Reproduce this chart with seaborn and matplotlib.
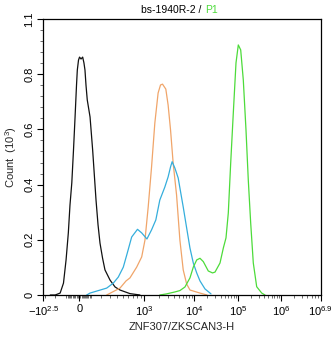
import numpy as np
import pandas as pd
import matplotlib
matplotlib.use("Agg")
import matplotlib.pyplot as plt
import seaborn as sns
from matplotlib.ticker import FixedLocator

sns.set_style("white")
plt.rcParams['font.family'] = ['Liberation Sans', 'DejaVu Sans']
plt.rcParams['mathtext.default'] = 'regular'

# ---------------- data (fluorescence value, count in 10^3) ----------------
black_x = [-242, -195, -151, -123, -102, -84, -71, -57, -44, -32, -21, -15, -6, 2, 15, 29, 40,
           49, 58, 69, 94, 118, 150, 170, 190, 217, 244, 305, 373, 448, 633, 879]
black_y = [0.0, 0.0, 0.007, 0.043, 0.127, 0.225, 0.326, 0.406, 0.525, 0.645, 0.761, 0.815, 0.851,
           0.862, 0.855, 0.862, 0.841, 0.815, 0.76, 0.707, 0.645, 0.525, 0.344, 0.254, 0.188,
           0.134, 0.091, 0.054, 0.029, 0.018, 0.005, 0.0]

orange_x = [264, 448, 554, 633, 790, 929, 1047, 1219, 1426, 1660, 1932, 2158, 2366, 2754, 3062,
            3420, 3855, 4508, 5248, 6109, 7145, 8318, 13650, 19630]
orange_y = [0.0, 0.025, 0.051, 0.062, 0.101, 0.138, 0.199, 0.319, 0.464, 0.623, 0.732, 0.761,
            0.764, 0.746, 0.688, 0.598, 0.478, 0.362, 0.199, 0.091, 0.040, 0.018, 0.007, 0.0]

blue_x = [64, 94, 264, 348, 421, 504, 578, 670, 748, 811, 929, 1148, 1426, 1738, 2089, 2630,
          3062, 3420, 3681, 4169, 4853, 5248, 6109, 7145, 8318, 9683, 11510, 13650, 17700, 24210]
blue_y = [0.0, 0.007, 0.025, 0.043, 0.065, 0.101, 0.152, 0.210, 0.226, 0.238, 0.225, 0.203,
          0.236, 0.272, 0.344, 0.391, 0.428, 0.464, 0.483, 0.460, 0.424, 0.388, 0.319, 0.243,
          0.170, 0.116, 0.080, 0.051, 0.022, 0.004]

green_x = [2089, 2844, 4169, 5248, 6607, 8318, 9683, 11510, 13650, 16220, 21020, 26190, 29800,
           38650, 45890, 52760, 59460, 67340, 77090, 88720, 100000, 113800, 130950, 151400,
           171300, 195000, 224500, 269600, 353400, 421700]
green_y = [0.0, 0.004, 0.011, 0.016, 0.029, 0.062, 0.101, 0.127, 0.133, 0.121, 0.087, 0.080,
           0.083, 0.116, 0.170, 0.207, 0.297, 0.478, 0.659, 0.841, 0.906, 0.888, 0.779, 0.598,
           0.417, 0.261, 0.116, 0.030, 0.007, 0.0]

x_tick_values = [-10**2.5, 0, 1e3, 1e4, 1e5, 1e6, 10**6.9]
x_tick_labels = ['$-10^{2.5}$', '0', '$10^{3}$', '$10^{4}$', '$10^{5}$', '$10^{6}$', '$10^{6.9}$']
y_tick_values = [0, 0.2, 0.4, 0.6, 0.8, 1.0]
y_tick_labels = ['0', '0.2', '0.4', '0.6', '0.8', '1.1']

colors = {'black': '#111111', 'orange': '#F0A56A', 'blue': '#35AEDC', 'green': '#4DDB3A'}

# ---------------- biexponential-like axis scale ----------------
C = 280.0
anchor_vals = np.array(x_tick_values)
anchor_u = np.arcsinh(anchor_vals / C)
anchor_pos = np.array([0.0, 36.0, 100.7, 150.7, 195.0, 237.7, 277.2]) / 277.2


def fwd(x):
    x = np.asarray(x, dtype=float)
    u = np.arcsinh(x / C)
    slope_l = (anchor_pos[1] - anchor_pos[0]) / (anchor_u[1] - anchor_u[0])
    slope_r = (anchor_pos[-1] - anchor_pos[-2]) / (anchor_u[-1] - anchor_u[-2])
    out = np.interp(u, anchor_u, anchor_pos)
    out = np.where(u < anchor_u[0], anchor_pos[0] + (u - anchor_u[0]) * slope_l, out)
    out = np.where(u > anchor_u[-1], anchor_pos[-1] + (u - anchor_u[-1]) * slope_r, out)
    return out


def inv(p):
    p = np.asarray(p, dtype=float)
    slope_l = (anchor_u[1] - anchor_u[0]) / (anchor_pos[1] - anchor_pos[0])
    slope_r = (anchor_u[-1] - anchor_u[-2]) / (anchor_pos[-1] - anchor_pos[-2])
    u = np.interp(p, anchor_pos, anchor_u)
    u = np.where(p < anchor_pos[0], anchor_u[0] + (p - anchor_pos[0]) * slope_l, u)
    u = np.where(p > anchor_pos[-1], anchor_u[-1] + (p - anchor_pos[-1]) * slope_r, u)
    return C * np.sinh(u)


frames = []
for name, xs, ys in [('black', black_x, black_y), ('orange', orange_x, orange_y),
                     ('blue', blue_x, blue_y), ('green', green_x, green_y)]:
    frames.append(pd.DataFrame({'x': xs, 'y': ys, 'series': name, 'order': range(len(xs))}))
df = pd.concat(frames, ignore_index=True)

W, H = 334, 337
fig = plt.figure(figsize=(W / 100, H / 100), dpi=100)
ax = fig.add_axes([43.3 / W, (H - 295) / H, 277.2 / W, 276 / H])
ax.set_xscale('function', functions=(fwd, inv))

sns.lineplot(data=df, x='x', y='y', hue='series', palette=colors, sort=False,
             estimator=None, units='series', legend=False, linewidth=0.9, ax=ax)

ax.set_xlim(x_tick_values[0], x_tick_values[-1])
ax.set_ylim(0, 1.0)

# x ticks
ax.xaxis.set_major_locator(FixedLocator(x_tick_values))
ax.set_xticklabels(x_tick_labels)
minor = [-300, -200, -100] + [-k for k in range(10, 100, 10)] + list(range(10, 100, 10)) \
    + list(range(100, 1000, 100))
for dec in [1e3, 1e4, 1e5, 1e6]:
    minor += [m * dec for m in range(2, 10) if m * dec < 10**6.9]
ax.xaxis.set_minor_locator(FixedLocator(minor))

# y ticks
ax.yaxis.set_major_locator(FixedLocator(y_tick_values))
ax.set_yticklabels(y_tick_labels, rotation=90, va='center')
ax.yaxis.set_minor_locator(FixedLocator(list(np.arange(0, 1.0001, 0.04))))

ax.tick_params(which='major', direction='out', length=4.5, width=0.8, colors='black',
               labelsize=8, pad=2, bottom=True, left=True)
ax.tick_params(which='minor', direction='out', length=2.5, width=0.6, color='#555555',
               bottom=True, left=True)
for s in ax.spines.values():
    s.set_visible(True)
    s.set_color('black')
    s.set_linewidth(0.9)

ax.set_xlabel('ZNF307/ZKSCAN3-H', fontsize=8, labelpad=3)
ax.set_ylabel('Count  (10$^{3}$)', fontsize=8, labelpad=4)

t1 = fig.text(0.518, 0.985, 'bs-1940R-2 / ', ha='center', va='top', fontsize=7.5, color='black')
ax.annotate('P1', xy=(1, 0), xycoords=t1, va='bottom', ha='left', fontsize=7.5,
            color='#4DDB3A', annotation_clip=False)

fig.savefig('out.png', dpi=100)
